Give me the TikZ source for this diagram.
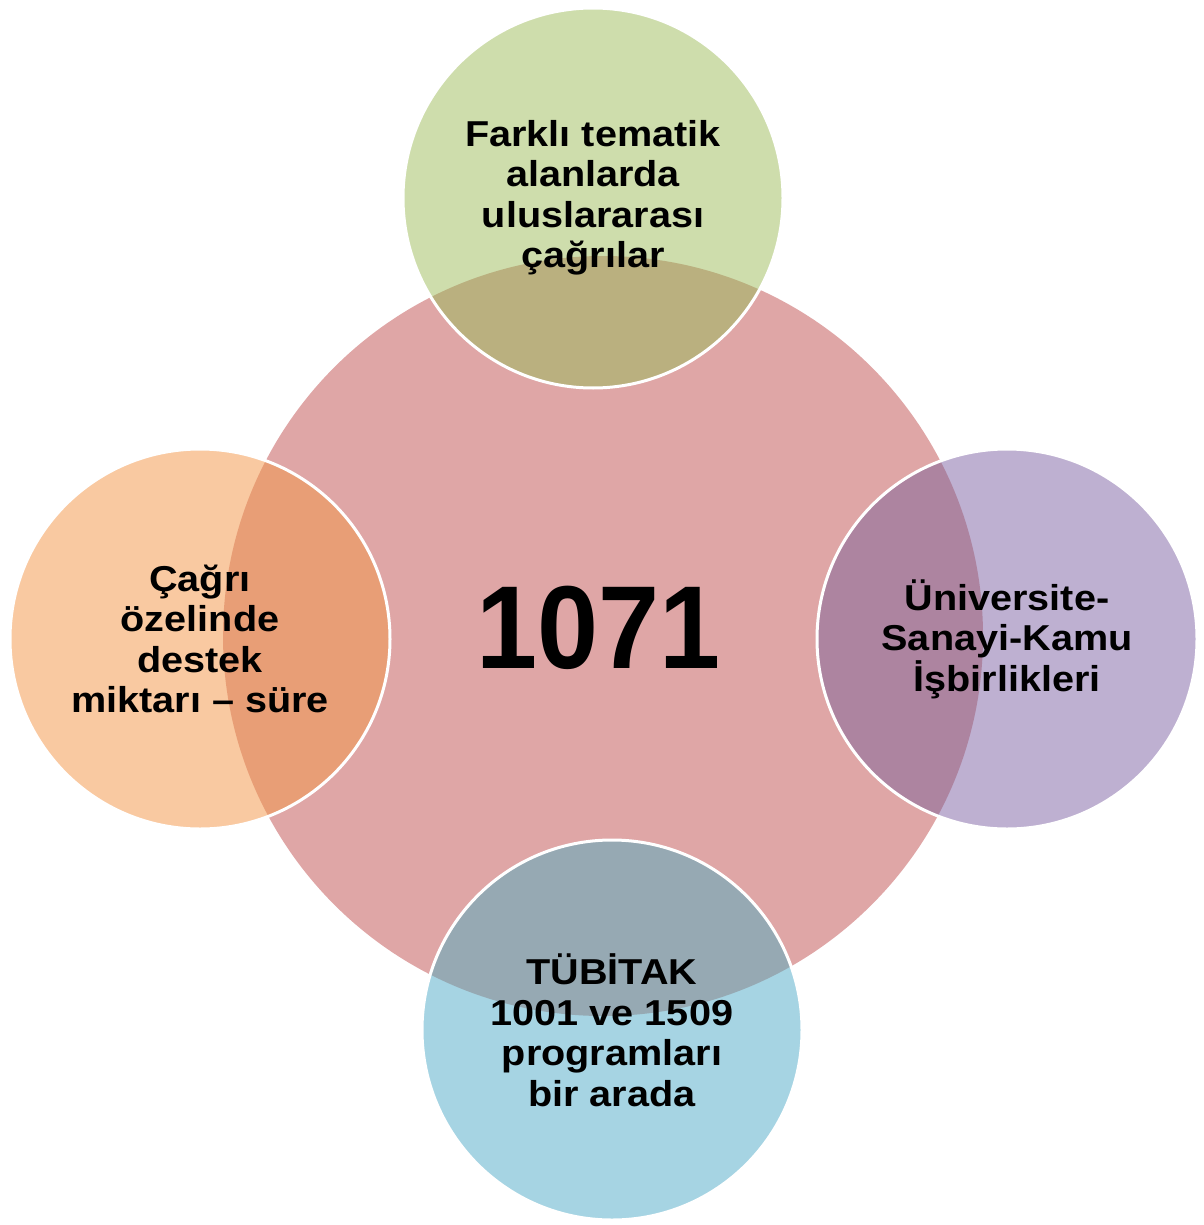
\documentclass[tikz,border=0pt]{standalone}
\usepackage{fontspec}
\setmainfont{Liberation Sans}
\newfontfamily\lblfont[FakeStretch=1.1]{Liberation Sans}
\newfontfamily\numfont[FakeStretch=0.93]{Liberation Sans}

\definecolor{corefill}{HTML}{DFA6A6}
\definecolor{greenfill}{HTML}{CEDDAC}
\definecolor{greenmix}{HTML}{BAB07F}
\definecolor{orangefill}{HTML}{F9C9A1}
\definecolor{orangemix}{HTML}{E89E76}
\definecolor{purplefill}{HTML}{BEB0D1}
\definecolor{purplemix}{HTML}{AD84A0}
\definecolor{bluefill}{HTML}{A6D4E3}
\definecolor{bluemix}{HTML}{96A9B3}

\begin{document}
\begin{tikzpicture}[
                    x=1pt, y=-1pt,
                    rim/.style={draw=white, line width=3pt},
                    lbl/.style={align=center, inner sep=0pt, font=\lblfont\bfseries\fontsize{36}{40.5}\selectfont},
                    num/.style={inner sep=0pt, font=\numfont\bfseries\fontsize{118}{120}\selectfont}
                    ]

                    \useasboundingbox (0,0) rectangle (1203,1225);

                    \coordinate (core) at (603,636);
                    \coordinate (top) at (593,198);
                    \coordinate (left) at (200,639);
                    \coordinate (right) at (1007,639);
                    \coordinate (bottom) at (612,1030);

                    \fill[corefill] (core) circle (380pt);
                    \foreach \c/\col/\mix in {top/greenfill/greenmix, left/orangefill/orangemix, right/purplefill/purplemix, bottom/bluefill/bluemix} {
                        \fill[\col] (\c) circle (190pt);
                        \begin{scope}
                            \clip (\c) circle (190pt);
                            \fill[\mix] (core) circle (380pt);
                        \end{scope}
                        \path[rim] (\c) circle (190pt);
                    }

                    \node [num] (core-lbl) at (599,628) {1071};
                    \node [lbl] (top-lbl) at (top) {Farklı tematik\\alanlarda\\uluslararası\\çağrılar};
                    \node [lbl] (left-lbl) at (left) {Çağrı\\özelinde\\destek\\miktarı – süre};
                    \node [lbl] (right-lbl) at (right) {Üniversite-\\Sanayi-Kamu\\İşbirlikleri};
                    \node [lbl] (bottom-lbl) at (bottom) {TÜBİTAK\\1001 ve 1509\\programları\\bir arada};
                \end{tikzpicture}
\end{document}
